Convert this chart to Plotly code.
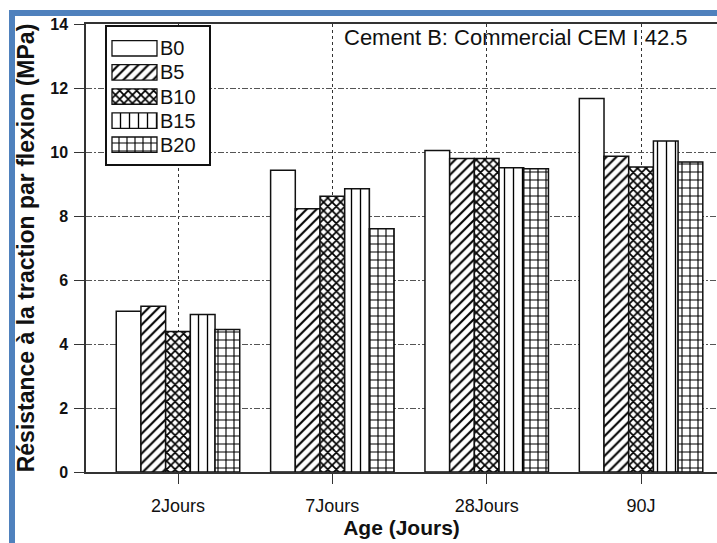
import plotly.graph_objects as go

# ---- data ----
categories = ["2Jours", "7Jours", "28Jours", "90J"]
series_names = ["B0", "B5", "B10", "B15", "B20"]
B0 = [5.02, 9.43, 10.05, 11.67]
B5 = [5.18, 8.23, 9.80, 9.87]
B10 = [4.39, 8.62, 9.80, 9.53]
B15 = [4.92, 8.85, 9.51, 10.34]
B20 = [4.45, 7.60, 9.48, 9.69]
series_values = [B0, B5, B10, B15, B20]
y_ticks = [0, 2, 4, 6, 8, 10, 12, 14]

# ---- styles ----
patterns = ["", "/", "x", "|", "+"]
pat_size = [8, 7, 6, 9, 8]
pat_solid = [0.2, 0.3, 0.5, 0.15, 0.26]
FONT = "Liberation Sans, Arial, sans-serif"
W, H = 717, 543
ML, MT, MB, MR = 86, 24, 71, 0
PW, PH = W - ML - MR, H - MT - MB

def px_x(p):
    return (p - ML) / PW

def px_y(p):
    return (MT + PH - p) / PH

fig = go.Figure()
for name, vals, shp, sz, so in zip(series_names, series_values, patterns, pat_size, pat_solid):
    fig.add_trace(go.Bar(
        name=name, x=categories, y=vals,
        marker=dict(color="white", line=dict(color="#111", width=1.5),
                    pattern=dict(shape=shp, size=sz, solidity=so,
                                 fgcolor="#000", bgcolor="white", fillmode="replace")),
        showlegend=False, xaxis="x", yaxis="y",
    ))

# ---- legend drawn as a small inset subplot ----
leg_x_range = [-0.111, 2.156]
leg_y_range = [4.80, -0.884]
fig.add_trace(go.Bar(
    orientation="h", y=series_names, x=[1] * len(series_names),
    width=0.64, text=series_names, textposition="outside", cliponaxis=False,
    constraintext="none", textangle=0,
    textfont=dict(size=20, color="#111", family=FONT),
    marker=dict(color="white", line=dict(color="#111", width=1.3),
                pattern=dict(shape=patterns, size=pat_size, solidity=pat_solid,
                             fgcolor="#000", bgcolor="white", fillmode="replace")),
    showlegend=False, xaxis="x2", yaxis="y2", hoverinfo="skip",
))

shapes = [
    dict(type="rect", xref="x2", yref="y2", layer="below",
         x0=leg_x_range[0], x1=leg_x_range[1], y0=leg_y_range[0], y1=leg_y_range[1],
         fillcolor="white", line=dict(width=0)),
    # blue page frame
    dict(type="rect", xref="paper", yref="paper", layer="above",
         x0=px_x(9), x1=px_x(W), y0=px_y(16), y1=px_y(10),
         fillcolor="#4f81bd", line=dict(width=0)),
    dict(type="rect", xref="paper", yref="paper", layer="above",
         x0=px_x(9), x1=px_x(15), y0=px_y(H), y1=px_y(10),
         fillcolor="#4f81bd", line=dict(width=0)),
]

fig.update_layout(
    width=W, height=H,
    margin=dict(l=ML, r=MR, t=MT, b=MB, autoexpand=False),
    paper_bgcolor="white", plot_bgcolor="white",
    font=dict(family=FONT, color="#111"),
    barmode="group", bargap=0.2, bargroupgap=0,
    showlegend=False,
    xaxis=dict(
        type="category", categoryorder="array", categoryarray=categories,
        range=[-0.596, 3.492], showline=True, mirror=True, linecolor="#333", linewidth=1.5,
        ticks="outside", ticklen=10, tickcolor="#333", tickwidth=1.3,
        tickfont=dict(size=18, color="#111"), ticklabelstandoff=7,
        showgrid=True, gridcolor="#333", gridwidth=1.3, griddash="dot",
        title=dict(text="<b>Age (Jours)</b>", font=dict(size=21, color="#111"), standoff=5),
        automargin=False, domain=[0, 1],
    ),
    yaxis=dict(
        range=[0, 14], tickvals=y_ticks, showline=True, mirror=False, linecolor="#333", linewidth=1.5,
        ticks="outside", ticklen=10, tickcolor="#333", tickwidth=1.3,
        tickfont=dict(size=16, color="#111", family="Liberation Sans, Arial", weight="bold"),
        ticklabelstandoff=3,
        showgrid=True, gridcolor="#555", gridwidth=1, griddash="6px,2px,2px,2px",
        zeroline=False,
        title=dict(text="<b>Résistance à la traction par flexion (MPa)</b>",
                   font=dict(size=23, color="#111"), standoff=9),
        automargin=False, domain=[0, 1],
    ),
    xaxis2=dict(
        domain=[px_x(107), px_x(209)], anchor="y2", range=leg_x_range,
        showline=True, mirror=True, linecolor="#111", linewidth=1.5,
        showgrid=False, zeroline=False, showticklabels=False, ticks="",
    ),
    yaxis2=dict(
        domain=[px_y(164), px_y(27)], anchor="x2", type="category", range=leg_y_range,
        showline=True, mirror=True, linecolor="#111", linewidth=1.5,
        showgrid=False, zeroline=False, showticklabels=False, ticks="",
    ),
    shapes=shapes,
    annotations=[dict(
        text="Cement B: Commercial CEM I 42.5", xref="paper", yref="paper",
        x=px_x(342), y=px_y(37.5), xanchor="left", yanchor="middle",
        showarrow=False, font=dict(size=22, color="#111", family=FONT),
    )],
)

fig.write_html("out.html")
